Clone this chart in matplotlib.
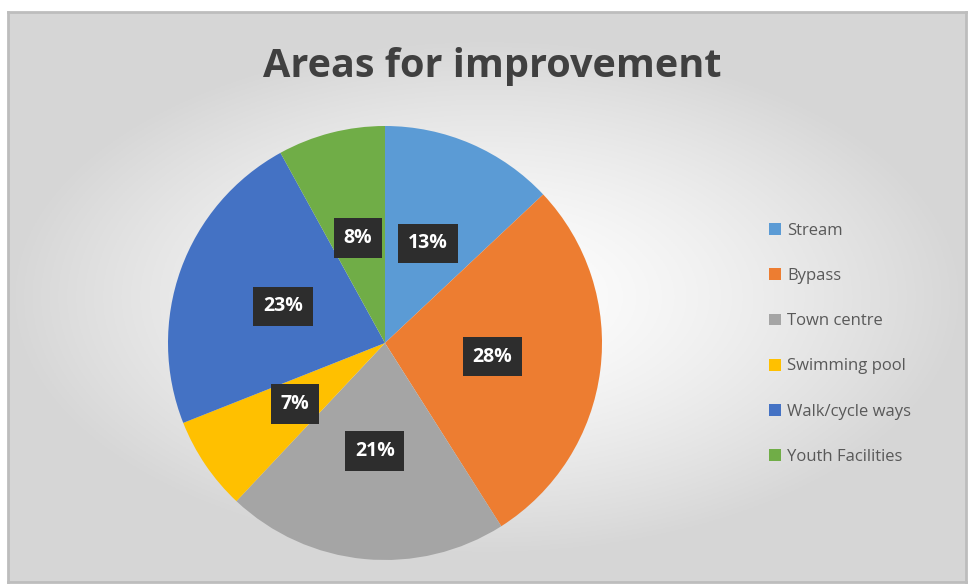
import numpy as np
import matplotlib.pyplot as plt

categories = ["Stream", "Bypass", "Town centre", "Swimming pool",
              "Walk/cycle ways", "Youth Facilities"]
shares = [13, 28, 21, 7, 23, 8]
colors = ["#5B9BD5", "#ED7D31", "#A5A5A5", "#FFC000", "#4472C4", "#70AD47"]

W, H = 970, 585
fig = plt.figure(figsize=(W / 100, H / 100), dpi=100)
fig.patch.set_facecolor("white")

# chart area with a soft radial gradient
bg = fig.add_axes([8 / W, 3 / H, 958 / W, 570 / H])
yy, xx = np.mgrid[-1:1:300j, -1:1:500j]
d = np.sqrt((xx * 1.0) ** 2 + (yy * 1.1) ** 2)
shade = np.clip(1.0 - 0.16 * d ** 1.4, 0.84, 1.0)
bg.imshow(np.dstack([shade, shade, shade]), aspect="auto", extent=[0, 1, 0, 1])
bg.set_xticks([])
bg.set_yticks([])
for s in bg.spines.values():
    s.set_color("#bdbdbd")
    s.set_linewidth(2)

fig.text(492 / W, 1 - 66 / H, "Areas for improvement", ha="center", va="center",
         fontsize=28.5, fontweight="bold", color="#404040", family="Open Sans")

cx, cy, r = 385, 343, 217
ax = fig.add_axes([(cx - r) / W, (H - cy - r) / H, 2 * r / W, 2 * r / H])
wedges, texts, autotexts = ax.pie(
    shares, colors=colors, startangle=90, counterclock=False,
    autopct="%d%%", pctdistance=0.5, wedgeprops=dict(linewidth=0))
for t in autotexts:
    t.set_color("white")
    t.set_fontsize(14)
    t.set_fontweight("bold")
    t.set_family("Open Sans")
    t.set_bbox(dict(boxstyle="square,pad=0.5", facecolor="#2d2d2d", edgecolor="none"))
ax.set_aspect("equal")
ax.set_xlim(-1, 1)
ax.set_ylim(-1, 1)

leg = fig.legend(wedges, categories, loc="upper left",
                 bbox_to_anchor=(754 / W, 1 - 208 / H), frameon=False,
                 labelspacing=1.75, handlelength=0.7,
                 handleheight=0.7, handletextpad=0.4,
                 prop=dict(family="Open Sans", size=12))
for t in leg.get_texts():
    t.set_color("#595959")

fig.savefig("out.png", dpi=100)
